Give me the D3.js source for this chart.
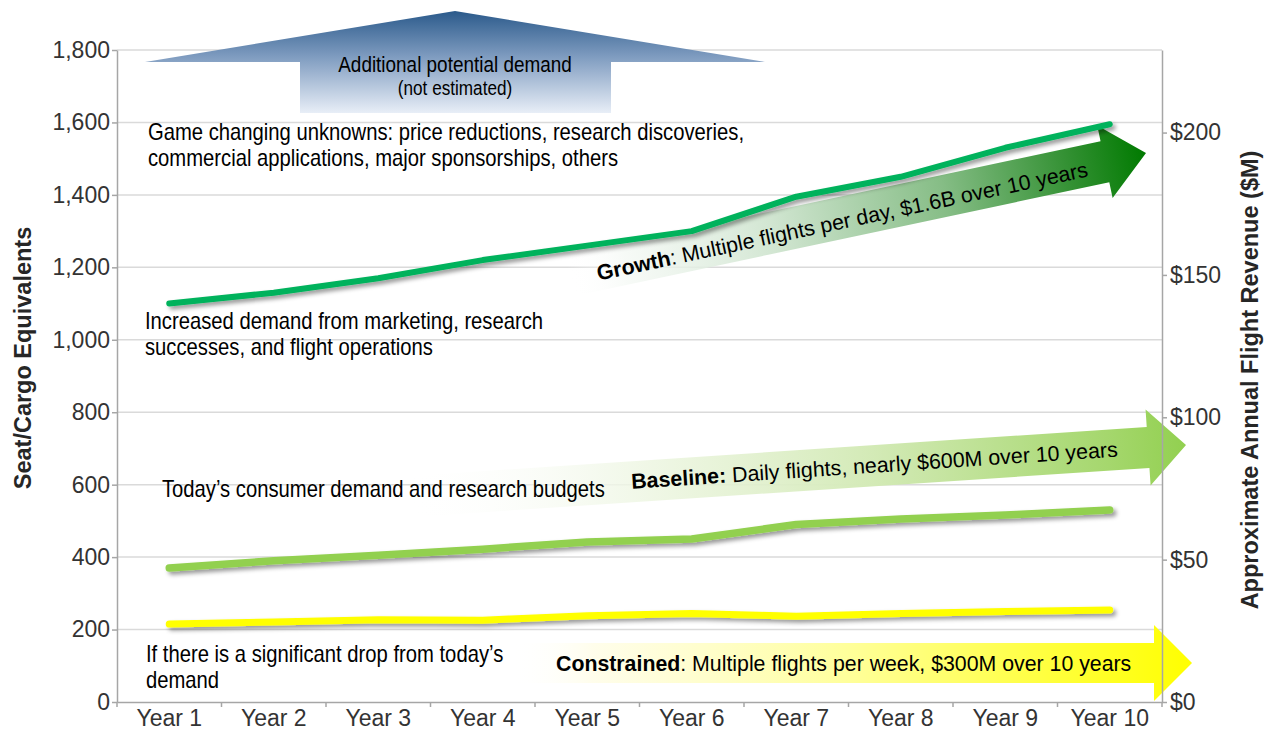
<!DOCTYPE html>
<html>
<head>
<meta charset="utf-8">
<script src="https://cdn.jsdelivr.net/npm/d3@7"></script>
<style>
  html, body { margin: 0; padding: 0; background: #fff; }
  svg { display: block; font-family: "Liberation Sans", Arial, sans-serif; }
</style>
</head>
<body>
<svg id="chart" width="1268" height="732"></svg>
<script>
// ---- data ----
const years = ["Year 1", "Year 2", "Year 3", "Year 4", "Year 5",
               "Year 6", "Year 7", "Year 8", "Year 9", "Year 10"];
const growthSeats      = [1100, 1130, 1170, 1220, 1260, 1300, 1395, 1450, 1530, 1595];
const baselineSeats    = [370, 390, 405, 422, 442, 450, 490, 505, 516, 530];
const constrainedSeats = [215, 221, 227, 226, 238, 244, 237, 244, 250, 254];
const seatTicks    = [0, 200, 400, 600, 800, 1000, 1200, 1400, 1600, 1800];
const revenueTicks = [0, 50, 100, 150, 200];
const revenueMax   = 229;

// ---- layout ----
const svg = d3.select("#chart");
const plot = { left: 117, right: 1162, top: 50, bottom: 702 };

const x = d3.scaleBand().domain(years).range([plot.left, plot.right]);
const y = d3.scaleLinear().domain([0, 1800]).range([plot.bottom, plot.top]);
const yRev = d3.scaleLinear().domain([0, revenueMax]).range([plot.bottom, plot.top]);

const defs = svg.append("defs");

// soft shadow under the scenario lines
const shadow = defs.append("filter").attr("id", "lineShadow")
  .attr("x", "-5%").attr("y", "-60%").attr("width", "112%").attr("height", "220%");
shadow.append("feDropShadow").attr("dx", 3).attr("dy", 3).attr("stdDeviation", 2)
  .attr("flood-color", "#000").attr("flood-opacity", 0.4);

// ---- gridlines ----
svg.append("g").selectAll("line")
  .data(seatTicks.filter(d => d > 0))
  .join("line")
  .attr("x1", plot.left).attr("x2", plot.right)
  .attr("y1", d => y(d)).attr("y2", d => y(d))
  .attr("stroke", "#dadada").attr("stroke-width", 1.5);

// ---- horizontal block arrows (drawn in a rotated local frame, tip at origin) ----
function blockArrow(o) {
  const g = svg.append("g")
    .attr("transform", `translate(${o.tipX},${o.tipY}) rotate(${o.angle})`);
  const grad = defs.append("linearGradient").attr("id", o.id)
    .attr("gradientUnits", "userSpaceOnUse")
    .attr("x1", -o.length).attr("y1", 0).attr("x2", 0).attr("y2", 0);
  o.stops.forEach(([off, col, op]) =>
    grad.append("stop").attr("offset", off).attr("stop-color", col).attr("stop-opacity", op));
  const pts = [
    [-o.length, -o.shaftHalf], [-o.headLen, -o.shaftHalf], [-o.headLen, -o.headHalf],
    [0, 0],
    [-o.headLen, o.headHalf], [-o.headLen, o.shaftHalf], [-o.length, o.shaftHalf]
  ];
  g.append("path").attr("d", d3.line()(pts) + "Z").attr("fill", `url(#${o.id})`);
  const t = g.append("text")
    .attr("x", o.textX).attr("y", o.textY)
    .attr("font-size", o.fontSize).attr("fill", "#000");
  t.append("tspan").attr("font-weight", "bold").text(o.boldLabel);
  t.append("tspan").text(o.label);
  return g;
}

blockArrow({
  id: "constrainedFill", tipX: 1192, tipY: 663, angle: 0,
  length: 680, shaftHalf: 20, headHalf: 38, headLen: 38,
  stops: [[0, "#ffffff", 0], [0.12, "#fffde6", 0.8], [0.5, "#ffff99", 1], [0.8, "#ffff3a", 1], [1, "#ffff00", 1]],
  textX: -636, textY: 8, fontSize: 21.3,
  boldLabel: "Constrained", label: ": Multiple flights per week, $300M over 10 years"
});

blockArrow({
  id: "baselineFill", tipX: 1186, tipY: 445, angle: -3.8,
  length: 780, shaftHalf: 20.5, headHalf: 38, headLen: 38,
  stops: [[0, "#ffffff", 0], [0.25, "#f2f8ea", 0.8], [0.6, "#d3eab6", 1], [0.9, "#a5d76d", 1], [1, "#92d050", 1]],
  textX: -556, textY: 7, fontSize: 21.4,
  boldLabel: "Baseline:", label: " Daily flights, nearly $600M over 10 years"
});

blockArrow({
  id: "growthFill", tipX: 1146, tipY: 153, angle: -12,
  length: 590, shaftHalf: 21, headHalf: 37, headLen: 42,
  stops: [[0, "#ffffff", 0], [0.1, "#f3f8f3", 0.7], [0.35, "#d2e6d2", 1], [0.65, "#86bd86", 1], [0.88, "#2e8e2e", 1], [1, "#007a00", 1]],
  textX: -562, textY: 11, fontSize: 21.4,
  boldLabel: "Growth", label: ": Multiple flights per day, $1.6B over 10 years"
});

// ---- upward arrow: demand beyond the estimate ----
const upGrad = defs.append("linearGradient").attr("id", "upFill")
  .attr("gradientUnits", "userSpaceOnUse")
  .attr("x1", 0).attr("y1", 11).attr("x2", 0).attr("y2", 113);
[[0, "#2b5a8b"], [0.45, "#7f9cc0"], [1, "#e8eef7"]].forEach(([o, c]) =>
  upGrad.append("stop").attr("offset", o).attr("stop-color", c));

const up = { tipX: 455, tipY: 11, wingL: 145, wingR: 765, wingY: 62, shaftL: 300, shaftR: 611, shaftBottom: 113 };
svg.append("path")
  .attr("d", d3.line()([
    [up.tipX, up.tipY], [up.wingR, up.wingY], [up.shaftR, up.wingY], [up.shaftR, up.shaftBottom],
    [up.shaftL, up.shaftBottom], [up.shaftL, up.wingY], [up.wingL, up.wingY]
  ]) + "Z")
  .attr("fill", "url(#upFill)");

// condensed annotation text
function narrowText(x0, y0, lines, size, lineH, anchor) {
  const t = svg.append("text")
    .attr("transform", `translate(${x0},${y0}) scale(0.88,1)`)
    .attr("font-size", size).attr("fill", "#000")
    .attr("text-anchor", anchor || "start");
  lines.forEach((s, i) => t.append("tspan").attr("x", 0).attr("y", i * lineH).text(s));
  return t;
}

narrowText(up.tipX, 72, ["Additional potential demand"], 21.5, 0, "middle");
narrowText(up.tipX, 95, ["(not estimated)"], 19.5, 0, "middle");

// ---- scenario lines ----
const line = d3.line()
  .x((d, i) => x(years[i]) + x.bandwidth() / 2)
  .y(d => y(d));

const series = [
  { values: constrainedSeats, color: "#ffff00", width: 7 },
  { values: baselineSeats,    color: "#92d050", width: 7.5 },
  { values: growthSeats,      color: "#00b25c", width: 6 }
];
svg.append("g").attr("filter", "url(#lineShadow)")
  .selectAll("path").data(series).join("path")
  .attr("d", d => line(d.values))
  .attr("fill", "none")
  .attr("stroke", d => d.color)
  .attr("stroke-width", d => d.width)
  .attr("stroke-linecap", "round")
  .attr("stroke-linejoin", "round");

// ---- annotations ----
narrowText(148, 140, ["Game changing unknowns: price reductions, research discoveries,",
                      "commercial applications, major sponsorships, others"], 23, 26);
narrowText(145, 329, ["Increased demand from marketing, research",
                      "successes, and flight operations"], 23, 26);
narrowText(162, 497, ["Today\u2019s consumer demand and research budgets"], 23, 26);
narrowText(146, 662, ["If there is a significant drop from today\u2019s",
                      "demand"], 23, 26);

// ---- axes ----
const axisColor = "#a6a6a6";
const labelColor = "#333333";

function styleAxis(g) {
  g.select(".domain").attr("stroke", axisColor).attr("stroke-width", 1.5);
  g.selectAll(".tick line").attr("stroke", axisColor).attr("stroke-width", 1.5);
  g.selectAll(".tick text").attr("fill", labelColor).attr("font-size", 23)
    .attr("font-family", "'Liberation Sans', Arial, sans-serif");
}

svg.append("g")
  .attr("transform", `translate(${plot.left},0)`)
  .call(d3.axisLeft(y).tickValues(seatTicks).tickFormat(d3.format(","))
    .tickSize(5).tickSizeOuter(0).tickPadding(2))
  .call(styleAxis);

svg.append("g")
  .attr("transform", `translate(${plot.right},0)`)
  .call(d3.axisRight(yRev).tickValues(revenueTicks).tickFormat(d => "$" + d)
    .tickSize(5).tickSizeOuter(0).tickPadding(3))
  .call(styleAxis);

const xAxis = svg.append("g")
  .attr("transform", `translate(0,${plot.bottom})`)
  .call(d3.axisBottom(x).tickSize(0).tickSizeOuter(0).tickPadding(8))
  .call(styleAxis);
// category boundary ticks
xAxis.selectAll(".bound")
  .data(years.map(d => x(d)).concat([plot.right]))
  .join("line").attr("class", "bound")
  .attr("x1", d => d).attr("x2", d => d)
  .attr("y1", 0).attr("y2", 5)
  .attr("stroke", axisColor).attr("stroke-width", 1.5);

// axis titles
svg.append("text")
  .attr("transform", `translate(31,${(plot.top + plot.bottom) / 2 - 18}) rotate(-90)`)
  .attr("text-anchor", "middle").attr("font-weight", "bold")
  .attr("font-size", 23.5).attr("fill", "#262626")
  .text("Seat/Cargo Equivalents");

svg.append("text")
  .attr("transform", `translate(1258,${(plot.top + plot.bottom) / 2 + 4}) rotate(-90)`)
  .attr("text-anchor", "middle").attr("font-weight", "bold")
  .attr("font-size", 23.5).attr("fill", "#262626")
  .text("Approximate Annual Flight Revenue ($M)");
</script>
</body>
</html>
